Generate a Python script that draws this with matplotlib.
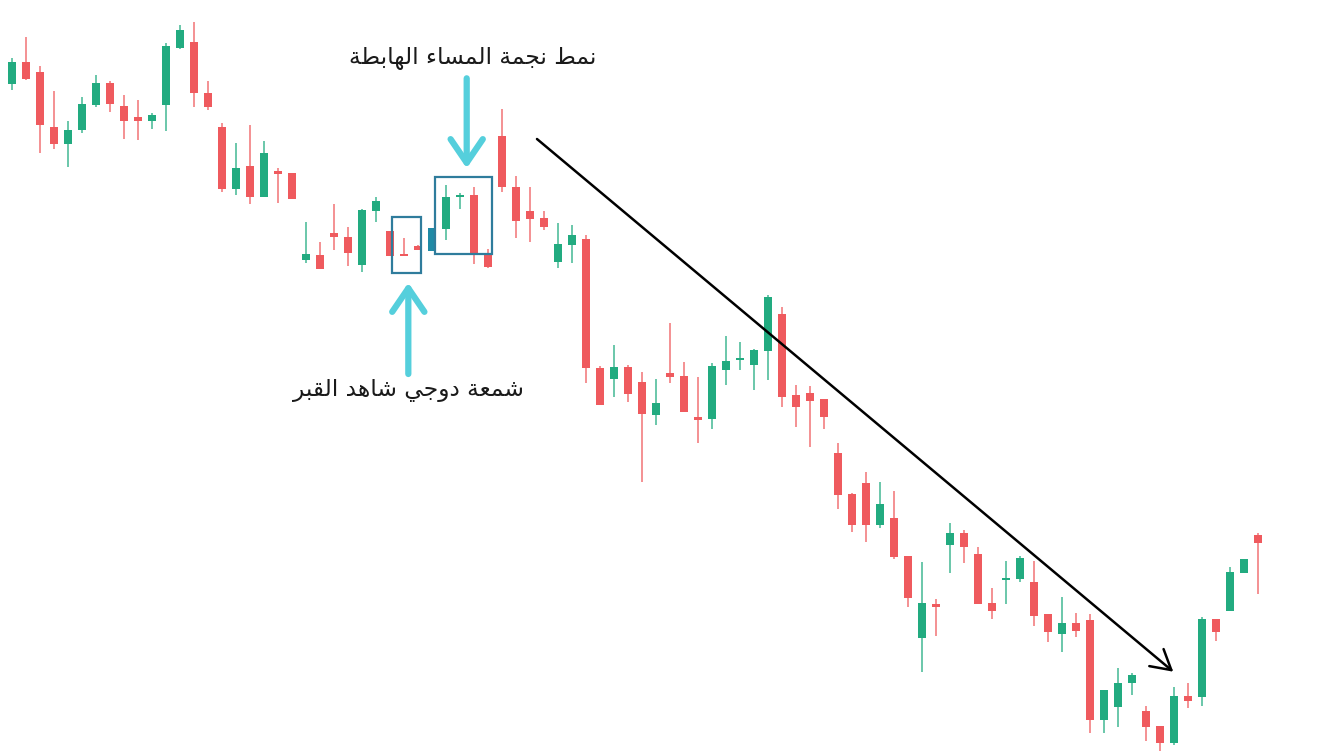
import numpy as np
import matplotlib.pyplot as plt

# OHLC (price units = 756 - pixel row)
opens = [672, 694.3, 684.3, 629.3, 612, 626, 651.3, 672.7, 650, 639,
         635.3, 650.7, 708.3, 714.3, 662.7, 628.7, 567.3, 590, 559, 585.3,
         583, 496, 501.3, 522.7, 519.3, 491.3, 544.7, 525.3, 502, 510,
         505.3, 527.3, 559.3, 561.3, 502, 620, 569.3, 545.3, 538.3, 493.7,
         511, 516.7, 388.3, 376.7, 388.7, 374.3, 341.3, 383, 380, 339,
         336.7, 386, 396.5, 390.7, 405.3, 442, 361, 362.7, 356.7, 303.3,
         262, 273, 231, 237.7, 200, 117.7, 152, 211, 223, 202,
         153.3, 176.2, 177, 174, 141.7, 121.7, 133.3, 135.7, 36.5, 49.3,
         72.7, 45.3, 30, 13.3, 60, 59.3, 137.3, 145.3, 183.3, 221]
highs = [698.3, 718.7, 690, 665.3, 634.7, 659.3, 680.7, 675.3, 661.3, 656,
         643.3, 712.7, 731.3, 734.3, 675, 633.3, 612.7, 631, 615.3, 588.3,
         583, 533.7, 513.7, 552, 528.7, 547.3, 558.7, 525.3, 518.3, 511,
         527.7, 571, 562.7, 568.7, 506.7, 647, 580, 569.3, 545.3, 533.3,
         531, 521, 390, 410.7, 390.7, 384.3, 377.3, 432.7, 393.7, 378.7,
         393.3, 420, 414, 407, 461.5, 448.7, 370.7, 370, 356.7, 312.7,
         262.7, 284.3, 274.5, 264.7, 200.3, 194, 156.7, 232.7, 225.7, 208.7,
         168.5, 195, 200, 195.3, 141.7, 158.7, 143.3, 142, 66, 87.7,
         82.7, 49.7, 30, 69.3, 72.7, 139.3, 137.3, 189.3, 196.7, 222.7]
lows = [666, 676, 603.3, 606.7, 589.3, 623.3, 649.3, 643.7, 617.3, 616,
        626.7, 625.3, 707.3, 649.3, 646, 564.3, 561, 552, 559, 553.3,
        557, 492.7, 487, 506, 490, 484.3, 534.3, 500.3, 500, 505.7,
        505.3, 516, 546.7, 492, 487.7, 564.3, 517.7, 514.3, 526, 488.3,
        493.3, 372.7, 351, 359.3, 354.3, 274.3, 331, 372.7, 343.7, 313.3,
        327.3, 370.7, 386, 366.5, 376, 349.3, 328.7, 308.7, 326.7, 246.7,
        224, 214.3, 228, 197.3, 149.3, 84.3, 120, 183.3, 193.3, 152.5,
        137.2, 151.8, 174.3, 130, 114.3, 104.3, 118.7, 22.7, 23, 29.5,
        61, 15.3, 5, 11, 47.7, 50, 115, 145.3, 183.3, 161.7]
closes = [694.3, 677, 630.7, 611.7, 626, 652, 672.7, 652, 634.7, 635.3,
          641, 710, 726, 662.7, 649.3, 566.7, 587.7, 559.3, 603.3, 582,
          557, 502, 487, 518.7, 502.7, 546, 554.7, 500.3, 500.3, 505.7,
          527.7, 559.3, 561.3, 502, 489.3, 568.7, 535, 537.3, 529.3, 511.7,
          521, 388.3, 351, 388.7, 361.7, 341.7, 353.3, 378.7, 343.7, 336.3,
          390.3, 395, 398.5, 406, 458.7, 359.3, 349.3, 354.7, 339.3, 261,
          231, 231, 252, 198.7, 157.7, 152.7, 149.3, 222.7, 208.7, 152.5,
          144.7, 177.7, 197.7, 140.3, 124.3, 133.3, 125.3, 36, 66, 73.3,
          80.7, 29.3, 13.5, 60.3, 55.3, 137, 124, 183.7, 196.7, 212.7]

highlight = 30          # candle drawn in the box colour
doji_box = (27.1, 29.15, 482.7, 538.7)     # left, right (candle idx), low, high
star_box = (30.2, 34.25, 502, 578.7)

title_top = "نمط نجمة المساء الهابطة"
title_bottom = "شمعة دوجي شاهد القبر"

GREEN = "#22ab80"
RED = "#ef5a5e"
TEAL = "#1f8aa6"
BOX = "#2f7c9c"
CYAN = "#55cfdc"

# --- tiny arabic shaper (presentation forms + right-to-left order) ---
FORMS = {
    "ا": ("\uFE8D", "\uFE8E", None, None),
    "ب": ("\uFE8F", "\uFE90", "\uFE91", "\uFE92"),
    "ة": ("\uFE93", "\uFE94", None, None),
    "ج": ("\uFE9D", "\uFE9E", "\uFE9F", "\uFEA0"),
    "د": ("\uFEA9", "\uFEAA", None, None),
    "ر": ("\uFEAD", "\uFEAE", None, None),
    "س": ("\uFEB1", "\uFEB2", "\uFEB3", "\uFEB4"),
    "ش": ("\uFEB5", "\uFEB6", "\uFEB7", "\uFEB8"),
    "ط": ("\uFEC1", "\uFEC2", "\uFEC3", "\uFEC4"),
    "ع": ("\uFEC9", "\uFECA", "\uFECB", "\uFECC"),
    "ق": ("\uFED5", "\uFED6", "\uFED7", "\uFED8"),
    "ل": ("\uFEDD", "\uFEDE", "\uFEDF", "\uFEE0"),
    "م": ("\uFEE1", "\uFEE2", "\uFEE3", "\uFEE4"),
    "ن": ("\uFEE5", "\uFEE6", "\uFEE7", "\uFEE8"),
    "ه": ("\uFEE9", "\uFEEA", "\uFEEB", "\uFEEC"),
    "و": ("\uFEED", "\uFEEE", None, None),
    "ي": ("\uFEF1", "\uFEF2", "\uFEF3", "\uFEF4"),
    "ء": ("\uFE80", None, None, None),
}


def joins_next(c):
    f = FORMS.get(c)
    return f is not None and f[2] is not None


def joins_prev(c):
    f = FORMS.get(c)
    return f is not None and f[1] is not None


def shape(s):
    out = []
    for k, c in enumerate(s):
        if c not in FORMS:
            out.append(c)
            continue
        prev = s[k - 1] if k > 0 else " "
        nxt = s[k + 1] if k + 1 < len(s) else " "
        p = joins_next(prev) and joins_prev(c)
        n = joins_next(c) and joins_prev(nxt)
        iso, fin, ini, med = FORMS[c]
        if p and n:
            out.append(med)
        elif p:
            out.append(fin)
        elif n:
            out.append(ini)
        else:
            out.append(iso)
    return "".join(out)[::-1]


# pixel layout: candle i sits at 12.4 + 14*i px
x0, step = 12.4, 14.0
W, H = 1344, 756

fig = plt.figure(figsize=(W / 100, H / 100), dpi=100)
ax = fig.add_axes([0, 0, 1, 1])
ax.set_xlim(-x0 / step, (W - x0) / step)
ax.set_ylim(0, H)
ax.axis("off")

o = np.array(opens); c = np.array(closes)
hi = np.array(highs); lo = np.array(lows)
idx = np.arange(len(o))
cols = [GREEN if cc >= oo else RED for oo, cc in zip(o, c)]
cols[highlight] = TEAL

ax.vlines(idx, lo, hi, colors=cols, linewidth=1.1, alpha=0.85, zorder=2)
body_h = np.maximum(np.abs(c - o), 1.6)
ax.bar(idx, body_h, bottom=np.minimum(o, c), width=0.57, color=cols,
       linewidth=0, zorder=3)

for i0, i1, b0, b1 in (doji_box, star_box):
    ax.add_patch(plt.Rectangle((i0, b0), i1 - i0, b1 - b0, fill=False,
                               edgecolor=BOX, linewidth=1.6, zorder=4))

# cyan pointers
arw = dict(arrowstyle="->,head_length=0.85,head_width=0.58", color=CYAN,
           lw=4.5, mutation_scale=20, shrinkA=0, shrinkB=0)
ax.annotate("", xy=(28.28, 473.3), xytext=(28.28, 382), arrowprops=arw)
ax.annotate("", xy=(32.45, 587.7), xytext=(32.45, 677.7), arrowprops=arw)

# trend line
ax.annotate("", xy=(82.92, 84.3), xytext=(37.47, 617),
            arrowprops=dict(arrowstyle="->,head_length=0.7,head_width=0.4",
                            color="black", lw=1.8, mutation_scale=20,
                            shrinkA=0, shrinkB=0))

ax.text(32.9, 698, shape(title_top), ha="center", va="center",
        fontsize=16.8, family=["DejaVu Sans"], color="#1a1a1a")
ax.text(28.26, 365, shape(title_bottom), ha="center", va="center",
        fontsize=16.8, family=["DejaVu Sans"], color="#1a1a1a")

plt.savefig("out.png", dpi=100)
